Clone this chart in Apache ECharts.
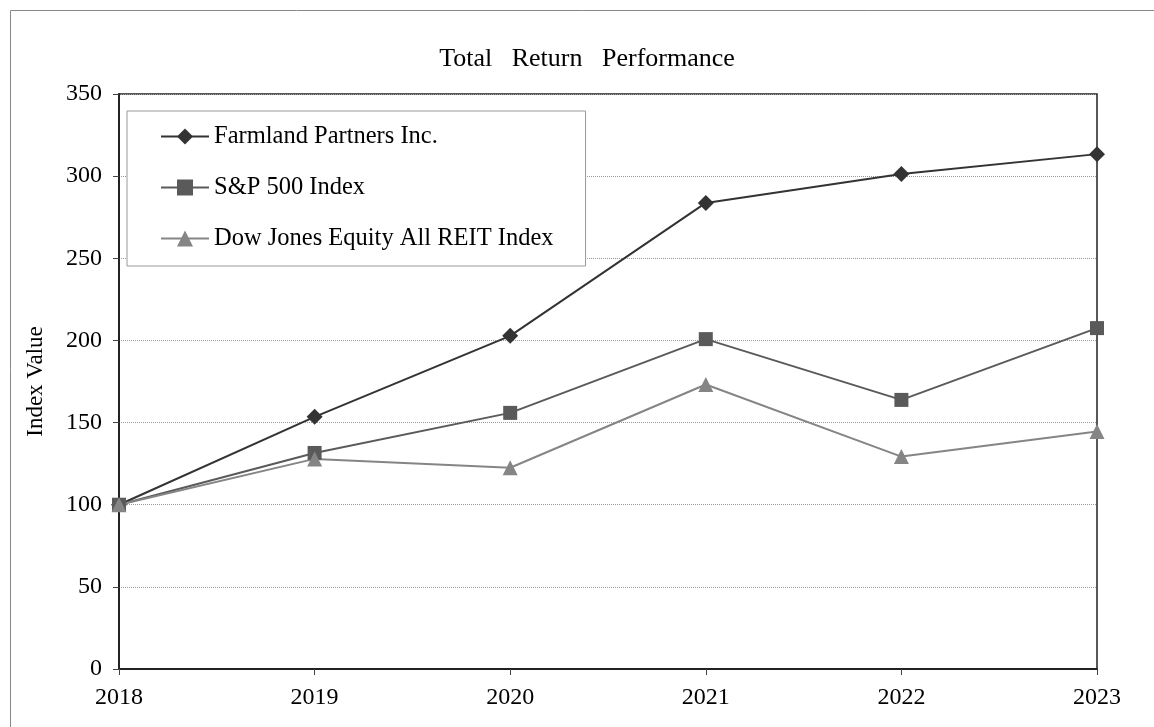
<!DOCTYPE html>
<html>
<head>
<meta charset="utf-8">
<script src="https://cdn.jsdelivr.net/npm/echarts@6/dist/echarts.min.js"></script>
<style>
  html, body { margin: 0; padding: 0; background: #fff; }
  #main { width: 1154px; height: 727px; }
</style>
</head>
<body>
<div id="main"></div>
<script>
var years = ['2018', '2019', '2020', '2021', '2022', '2023'];
var farmland = [100, 153.5, 202.8, 283.7, 301.3, 313.4];
var sp500 = [100, 131.5, 155.9, 200.8, 163.8, 207.5];
var reit = [100, 127.9, 122.5, 173.2, 129.3, 144.6];

var chart = echarts.init(document.getElementById('main'));
var font = 'Liberation Serif';

function lineSeries(name, data, color, symbol, size) {
  return {
    name: name,
    type: 'line',
    data: data,
    symbol: symbol,
    symbolSize: size,
    lineStyle: { color: color, width: 2 },
    itemStyle: { color: color },
    emphasis: { disabled: true }
  };
}

var option = {
  animation: false,
  textStyle: { fontFamily: font },
  title: {
    text: 'Total   Return   Performance',
    left: 582,
    top: 41,
    textAlign: 'center',
    textStyle: { fontFamily: font, fontSize: 26, fontWeight: 'normal', color: '#000' }
  },
  graphic: [{
    type: 'rect',
    shape: { x: 10.5, y: 10.5, width: 1200, height: 800 },
    style: { fill: 'none', stroke: '#888', lineWidth: 1 },
    silent: true
  }],
  legend: {
    orient: 'vertical',
    left: 127,
    top: 111,
    padding: [13, 32, 15, 33],
    itemGap: 26,
    itemWidth: 48,
    itemHeight: 20,
    backgroundColor: '#fff',
    borderColor: '#999',
    borderWidth: 1,
    borderRadius: 0,
    textStyle: { fontFamily: font, fontSize: 24.5, color: '#000', lineHeight: 24 },
    data: ['Farmland Partners Inc.', 'S&P 500 Index', 'Dow Jones Equity All REIT Index']
  },
  grid: {
    left: 119,
    top: 94,
    right: 57,
    bottom: 58,
    show: true,
    borderColor: '#222',
    borderWidth: 1.5,
    containLabel: false
  },
  xAxis: {
    type: 'category',
    data: years,
    boundaryGap: false,
    axisLine: { lineStyle: { color: '#222', width: 2 } },
    axisTick: { show: true, length: 6, lineStyle: { color: '#444' } },
    axisLabel: { fontFamily: font, fontSize: 24, color: '#000', margin: 17 },
    splitLine: { show: false }
  },
  yAxis: {
    type: 'value',
    min: 0,
    max: 350,
    interval: 50,
    name: 'Index Value',
    nameLocation: 'middle',
    nameGap: 72,
    nameTextStyle: { fontFamily: font, fontSize: 23, color: '#000' },
    axisLine: { show: true, lineStyle: { color: '#222', width: 2 } },
    axisTick: { show: true, length: 6, lineStyle: { color: '#444' } },
    axisLabel: { fontFamily: font, fontSize: 24, color: '#000', margin: 17 },
    splitLine: { show: true, lineStyle: { color: '#999', type: 'dotted', width: 1 } }
  },
  series: [
    lineSeries('Farmland Partners Inc.', farmland, '#333333', 'diamond', 16),
    lineSeries('S&P 500 Index', sp500, '#5a5a5a', 'rect', 14),
    lineSeries('Dow Jones Equity All REIT Index', reit, '#858585', 'triangle', 15)
  ]
};

chart.setOption(option);
</script>
</body>
</html>
